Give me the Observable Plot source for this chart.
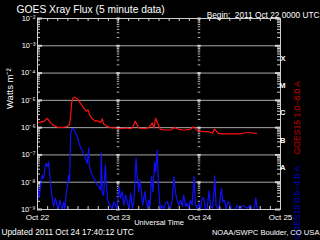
<!DOCTYPE html>
<html><head><meta charset="utf-8">
<script src="https://cdn.jsdelivr.net/npm/d3@7"></script>
<script src="https://cdn.jsdelivr.net/npm/@observablehq/plot@0.6"></script>
<style>html,body{margin:0;padding:0;background:#000;overflow:hidden}</style>
</head><body><div id="chart"></div>
<script>
const titleText = "GOES Xray Flux (5 minute data)";
const beginText = "Begin:\u00A0\u00A02011 Oct 22 0000 UTC";
const updatedText = "Updated 2011 Oct 24 17:40:12 UTC";
const creditText = "NOAA/SWPC Boulder, CO USA";
const yAxisTitle = "Watts m\u207B\u00B2";
const xAxisTitle = "Universal Time";
const longLabel = "GOES15 1.0\u22128.0 A";
const shortLabel = "GOES15 0.5\u22124.0 A";
const dayTicks = ["2011-10-22", "2011-10-23", "2011-10-24", "2011-10-25"];
const dayLabels = ["Oct 22", "Oct 23", "Oct 24", "Oct 25"];
const decadeTicks = [1e-9, 1e-8, 1e-7, 1e-6, 1e-5, 1e-4, 1e-3, 1e-2];
const flareClasses = ["A", "B", "C", "M", "X"];
const flareClassFlux = [1e-8, 1e-7, 1e-6, 1e-5, 1e-4];

// [hours since 2011-10-22 00:00 UTC, flux W m^-2]
const longChannel = [
  [0,1.5e-6],[0.9,1.6e-6],[1.9,1.7e-6],[2.9,2.2e-6],[3.3,1.9e-6],[3.9,1.5e-6],[4.8,1.2e-6],[5.8,1.05e-6],
  [7.3,1.0e-6],[8.8,1.1e-6],[9.5,1.3e-6],[9.9,3.4e-6],[10.1,7.9e-6],[10.5,1.2e-5],[11.0,1.3e-5],[11.8,1.15e-5],
  [12.7,7.9e-6],[13.7,5.2e-6],[14.4,4.0e-6],[15.0,4.5e-6],[15.4,3.0e-6],[16.2,2.1e-6],[17.2,1.7e-6],[17.7,1.8e-6],
  [18.7,1.55e-6],[19.2,2.1e-6],[19.6,1.35e-6],[20.7,1.1e-6],[21.6,1.0e-6],[23.1,9.7e-7],[24.6,9.1e-7],[26.1,9.7e-7],
  [27.6,9.1e-7],[28.1,1.0e-6],[29.0,1.7e-6],[30.0,9.7e-7],[31.5,9.1e-7],[33.0,1.0e-6],[34.0,1.5e-6],[34.5,9.7e-7],
  [35.0,2.2e-6],[35.6,1.45e-6],[36.4,8.7e-7],[37.9,8.2e-7],[39.4,8.2e-7],[40.6,1.0e-6],[41.8,8.7e-7],[43.3,8.2e-7],
  [45.3,8.7e-7],[46.2,1.07e-6],[47.4,7.7e-7],[49.2,7.1e-7],[50.7,7.1e-7],[51.9,6.2e-7],[52.4,8.9e-7],[53.6,6.2e-7],
  [54.8,5.9e-7],[57.2,5.9e-7],[60.1,5.9e-7],[61.6,6.5e-7],[63.1,6.5e-7],[64.9,6.2e-7]
];
const shortChannel = [
  [0,9.1e-9],[0.15,6.9e-9],[0.44,2.6e-9],[0.9,6.9e-9],[1.4,1.8e-8],[1.8,1.4e-8],[2.2,3.3e-8],[2.6,4.9e-8],
  [3.0,3.7e-8],[3.3,5.6e-8],[3.6,2.1e-8],[4.1,4.5e-9],[4.4,2.2e-9],[4.8,1.3e-9],[5.3,2.6e-9],[5.8,1.45e-9],
  [6.2,1e-9],[6.6,2.2e-9],[7.0,1.45e-9],[7.4,1e-9],[7.8,1.9e-9],[8.1,1e-9],[8.5,3.4e-9],[8.9,7.9e-9],
  [9.2,1.8e-8],[9.5,1.05e-8],[9.8,5.4e-7],[10.1,8.2e-7],[10.5,9.4e-7],[10.9,8.2e-7],[11.3,6.2e-7],[11.8,4.7e-7],
  [12.2,3.0e-7],[12.7,2.0e-7],[13.2,1.5e-7],[13.7,1.05e-7],[14.2,7.6e-8],[14.7,4.9e-8],[15.2,1.8e-7],[15.3,4.3e-8],
  [15.7,2.8e-8],[16.2,1.8e-8],[16.7,1.4e-8],[17.2,1.05e-8],[17.7,7.9e-9],[18.2,6.9e-9],[18.7,5.1e-9],[18.9,1.2e-7],
  [19.2,3.9e-9],[19.6,3.4e-9],[20.1,4.3e-8],[20.7,2.6e-9],[21.1,1.7e-9],[21.6,1.3e-9],[22.1,1e-9],[22.6,1.9e-9],
  [23.1,1.45e-9],[23.6,1e-9],[24.1,6.9e-9],[24.6,2.6e-9],[25.1,4.5e-9],[25.6,1.45e-9],[26.1,3.4e-9],[26.6,1.9e-9],
  [27.1,1.1e-9],[27.6,3.9e-9],[28.1,1.1e-9],[28.5,1.7e-9],[29.2,7.6e-8],[29.5,1.8e-8],[30.0,4.5e-9],[30.3,1.2e-8],
  [30.8,4.5e-9],[31.2,1.45e-9],[31.8,4.5e-9],[32.2,1.9e-9],[32.7,1.1e-9],[33.0,2.2e-9],[33.3,1.3e-9],[33.8,1.6e-8],
  [34.2,4.5e-9],[34.7,5.6e-8],[35.0,2.4e-8],[35.5,1.5e-7],[35.8,1.05e-8],[36.1,2.6e-9],[36.4,1e-9],[36.9,1.45e-9],
  [37.4,1e-9],[37.9,1.7e-9],[38.4,2.0e-9],[38.9,1.3e-9],[39.4,1.1e-9],[39.9,2.2e-9],[40.4,1.6e-8],[40.9,3.9e-9],
  [41.4,2.2e-9],[41.9,1.45e-9],[42.4,2.2e-9],[42.9,1.3e-9],[43.3,3.4e-9],[43.9,1.3e-9],[44.4,1.7e-9],[44.8,1.1e-9],
  [45.3,2.2e-9],[45.8,1.45e-9],[46.4,1.6e-8],[46.8,1.45e-9],[47.3,1.1e-9],[47.8,1.7e-9],[48.3,1e-9],[48.8,2.6e-9],
  [49.3,2.6e-9],[49.8,1e-9],[50.3,1.1e-9],[50.8,4.8e-9],[51.3,1.3e-9],[51.8,1.1e-9],[52.3,4.5e-9],[52.5,1.7e-8],
  [52.9,1.45e-9],[53.4,1e-9],[53.9,1.45e-9],[54.5,6.0e-9],[54.9,1.9e-9],[55.4,2.2e-9],[55.9,1e-9],[56.4,1.9e-9],
  [56.7,1.9e-9],[57.2,1.3e-9],[57.7,1e-9],[58.5,1e-9],[59.2,1.45e-9],[59.6,1.1e-9],[60.1,1e-9],[60.8,1.4e-9],
  [61.4,1.3e-9],[62.1,1.1e-9],[62.6,1.3e-9],[63.1,1.45e-9],[63.6,1e-9],[64.2,1e-9],[64.7,2.7e-9],[65.1,1e-9]
];

const start = new Date(Date.UTC(2011, 9, 22));
const toDate = h => new Date(start.getTime() + h * 3600e3);
const dayDates = dayTicks.map(s => new Date(s + "T00:00:00Z"));
const sup = {"0":"\u2070","1":"\u00B9","2":"\u00B2","3":"\u00B3","4":"\u2074","5":"\u2075","6":"\u2076","7":"\u2077","8":"\u2078","9":"\u2079","-":"\u207B"};
const fmtPow = d => "10" + String(Math.round(Math.log10(d))).split("").map(c => sup[c]).join("");

// log minor tick positions (2..9 x each decade)
const minorY = [];
for (let i = 0; i < decadeTicks.length - 1; i++) for (let m = 2; m <= 9; m++) minorY.push(decadeTicks[i] * m);
const innerDays = dayDates.slice(1, -1);
const dayDashes = innerDays.flatMap(d => minorY.map(y => ({d, y})));
const dayMajor = innerDays.flatMap(d => decadeTicks.map(y => ({d, y})));
const hourTicks = d3.utcHour.every(3).range(dayDates[0], dayDates[dayDates.length - 1]);

const grid = "#a8a8a8", axisCol = "#d0d0d0", dashCol = "#b8b8b8";
const font = "Liberation Sans";

const chart = Plot.plot({
  width: 320, height: 240,
  marginLeft: 37, marginRight: 40, marginTop: 18, marginBottom: 31,
  style: {background: "#000", color: "#fff", fontFamily: font, fontSize: "8px", overflow: "visible"},
  x: {type: "utc", domain: [dayDates[0], dayDates[dayDates.length - 1]]},
  y: {type: "log", domain: [decadeTicks[0], decadeTicks[decadeTicks.length - 1]]},
  marks: [
    Plot.ruleY(decadeTicks.slice(1, -1), {stroke: grid, strokeWidth: 1}),
    Plot.ruleY(minorY, {stroke: axisCol, insetRight: 240}),
    Plot.ruleY(minorY, {stroke: axisCol, insetLeft: 240}),
    Plot.ruleY(decadeTicks, {stroke: axisCol, strokeWidth: 2, insetRight: 238}),
    Plot.ruleY(decadeTicks, {stroke: axisCol, strokeWidth: 2, insetLeft: 238}),
    Plot.ruleY(dayDashes, {y: "y", x1: r => new Date(+r.d - 22 * 60e3), x2: r => new Date(+r.d + 22 * 60e3), stroke: dashCol}),
    Plot.ruleY(dayMajor, {y: "y", x1: r => new Date(+r.d - 30 * 60e3), x2: r => new Date(+r.d + 30 * 60e3), stroke: axisCol, strokeWidth: 2}),
    Plot.ruleX(hourTicks, {stroke: axisCol, insetTop: 188}),
    Plot.ruleX(hourTicks, {stroke: axisCol, insetBottom: 188}),
    Plot.line(shortChannel, {x: d => toDate(d[0]), y: d => d[1], stroke: "#1010f8", strokeWidth: 1.2}),
    Plot.line(longChannel, {x: d => toDate(d[0]), y: d => d[1], stroke: "#ff1010", strokeWidth: 1.2}),
    Plot.frame({stroke: axisCol}),
    Plot.axisY({ticks: decadeTicks, tickFormat: fmtPow, tickSize: 0, tickPadding: 2, fontSize: 7.5, label: null}),
    Plot.axisX({ticks: dayDates, tickFormat: d => dayLabels[dayDates.findIndex(t => +t === +d)], tickSize: 0, tickPadding: 5, fontSize: 8, label: null}),
    Plot.text(flareClasses, {text: d => d, y: (d, i) => flareClassFlux[i] * Math.sqrt(10), frameAnchor: "right", dx: 5, dy: -1, fill: "#fff", fontSize: 7.5, fontWeight: "bold"}),
    Plot.text([longLabel], {text: d => d, frameAnchor: "right", dx: 17, dy: -33, rotate: -90, fill: "#c80000", fontSize: 8.6}),
    Plot.text([shortLabel], {text: d => d, frameAnchor: "right", dx: 17, dy: 52, rotate: -90, fill: "#0000d0", fontSize: 8.6}),
    Plot.text([yAxisTitle], {text: d => d, frameAnchor: "left", dx: -28, dy: -5, rotate: -90, fill: "#fff", fontSize: 9.5}),
    Plot.text([xAxisTitle], {text: d => d, frameAnchor: "bottom", dy: 15, fill: "#fff", fontSize: 7.5}),
    Plot.text([titleText], {text: d => d, frameAnchor: "top-left", textAnchor: "start", dx: -21, dy: -12.5, fill: "#fff", fontSize: 10.3}),
    Plot.text([beginText], {text: d => d, frameAnchor: "top-right", textAnchor: "end", dx: 39, dy: -6, fill: "#fff", fontSize: 8.3}),
    Plot.text([updatedText], {text: d => d, frameAnchor: "bottom-left", textAnchor: "start", dx: -36, dy: 25, fill: "#fff", fontSize: 8.3}),
    Plot.text([creditText], {text: d => d, frameAnchor: "bottom-right", textAnchor: "end", dx: 39, dy: 25, fill: "#fff", fontSize: 7.6})
  ]
});
document.getElementById("chart").append(chart);
</script>
</body></html>
